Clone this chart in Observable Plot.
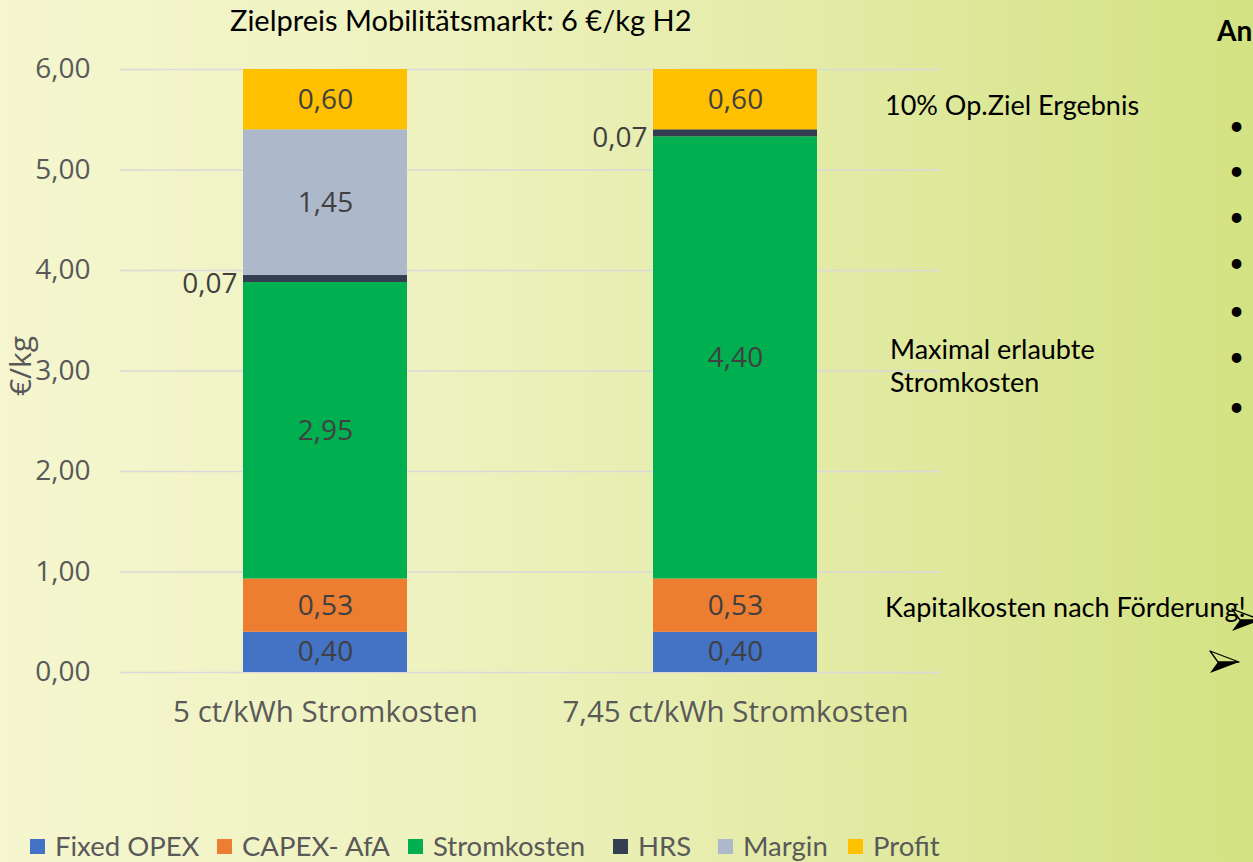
<!DOCTYPE html>
<html>
<head>
<meta charset="utf-8">
<script src="https://cdn.jsdelivr.net/npm/d3@7"></script>
<script src="https://cdn.jsdelivr.net/npm/@observablehq/plot@0.6"></script>
<style>
  html, body { margin: 0; padding: 0; }
  #wrap {
    position: relative; width: 1253px; height: 862px; overflow: hidden;
    background: linear-gradient(90deg, #f5f6cf 0%, #eef2bf 35%, #e3eba6 65%, #d3e282 100%);
    font-family: Lato, "Open Sans", sans-serif;
  }
  #chart { position: absolute; left: 0; top: 0; }
  .abs { position: absolute; white-space: nowrap; }
  .title { left: 230px; top: 2px; font-size: 29px; color: #000; line-height: 36px; }
  .note { font-size: 27px; color: #000; line-height: 33px; }
  .leg { top: 828px; font-size: 27.5px; color: #595959; display: flex; align-items: center; line-height: 36px; }
  .leg i { display: inline-block; width: 15px; height: 15px; margin-right: 10px; }
  .bul { left: 1229px; font-size: 26px; color: #000; }
  svg.arrow { position: absolute; }
</style>
</head>
<body>
<div id="wrap">
  <div id="chart"></div>
</div>
<script>
const categories = ["5 ct/kWh Stromkosten", "7,45 ct/kWh Stromkosten"];
const series = ["Fixed OPEX", "CAPEX- AfA", "Stromkosten", "HRS", "Margin", "Profit"];
const colors = ["#4472c4", "#ed7d31", "#00b050", "#333f50", "#adb9ca", "#ffc000"];
const values5ct = [0.40, 0.53, 2.95, 0.07, 1.45, 0.60];
const values745ct = [0.40, 0.53, 4.40, 0.07, 0.00, 0.60];
const yTicks = [0, 1, 2, 3, 4, 5, 6];
const title = "Zielpreis Mobilitätsmarkt: 6 €/kg H2";
const yLabel = "€/kg";

const valuesByCat = [values5ct, values745ct];
const rows = [];
categories.forEach((c, i) => series.forEach((s, j) => rows.push({category: c, series: s, value: valuesByCat[i][j]})));

const fmt = v => v.toFixed(2).replace(".", ",");

const plot = Plot.plot({
  width: 1253,
  height: 760,
  marginLeft: 120,
  marginRight: 313,
  marginTop: 69,
  marginBottom: 88,
  style: {background: "transparent", fontFamily: "'Open Sans', sans-serif", overflow: "visible"},
  x: {domain: categories, paddingInner: 0.6, paddingOuter: 0.3, label: null},
  y: {domain: [0, 6], label: null},
  color: {domain: series, range: colors},
  marks: [
    Plot.ruleY(yTicks, {stroke: "#d9d9d9", strokeWidth: 1.5}),
    Plot.barY(rows, {x: "category", y: "value", fill: "series"}),
    Plot.text(rows, Plot.stackY({
      x: "category", y: "value", z: "series",
      text: d => (d.series === "HRS" || d.value === 0) ? "" : fmt(d.value),
      fill: "#404040", fontSize: 28
    })),
    Plot.text(rows, Plot.stackY({
      x: "category", y: "value", z: "series",
      text: d => d.series === "HRS" ? fmt(d.value) : "",
      fill: "#404040", fontSize: 28, textAnchor: "end", dx: -88, dy: 5
    })),
    Plot.axisY(yTicks, {tickSize: 0, tickPadding: 30, tickFormat: fmt, fontSize: 28, color: "#595959", label: null}),
    Plot.axisX({tickSize: 0, tickPadding: 29, fontSize: 29.5, color: "#595959", label: null}),
    Plot.text([yLabel], {frameAnchor: "left", textAnchor: "middle", dx: -99, dy: -5, rotate: -90, fontSize: 30, fill: "#595959"})
  ]
});
document.getElementById("chart").appendChild(plot);

const wrap = document.getElementById("wrap");
function addDiv(cls, html, style) {
  const d = document.createElement("div");
  d.className = "abs " + cls;
  d.innerHTML = html;
  Object.assign(d.style, style || {});
  wrap.appendChild(d);
  return d;
}
addDiv("title", title);
addDiv("note", "10% Op.Ziel Ergebnis", {left: "885px", top: "88px"});
addDiv("note", "Maximal erlaubte<br>Stromkosten", {left: "890px", top: "332px"});
addDiv("note", "Kapitalkosten nach Förderung!", {left: "885px", top: "590px"});
addDiv("", "An", {left: "1217px", top: "13px", fontSize: "28px", fontWeight: "bold", color: "#000"});
[127, 172, 218, 264, 312, 358, 408].forEach(y => addDiv("bul", "•", {top: (y - 18) + "px"}));

// decorative arrowhead bullets (➢) at the right edge, partly cut off as in the reference
function arrowBullet(left, top) {
  const ns = "http://www.w3.org/2000/svg";
  const s = document.createElementNS(ns, "svg");
  s.setAttribute("class", "arrow");
  s.setAttribute("width", "34");
  s.setAttribute("height", "26");
  s.style.left = left + "px";
  s.style.top = top + "px";
  s.innerHTML = '<path d="M2,2 L31,13 L10,13 Z" fill="none" stroke="#000" stroke-width="1.3" stroke-linejoin="round"/>' +
                '<path d="M10,13 L31,13 L2,24 Z" fill="#000"/>';
  wrap.appendChild(s);
}
arrowBullet(1230, 607);
arrowBullet(1208, 649);

const legendX = [30, 217, 408, 613, 718, 848];
series.forEach((s, i) => {
  addDiv("leg", `<i style="background:${colors[i]}"></i>${s}`, {left: legendX[i] + "px"});
});
</script>
</body>
</html>
